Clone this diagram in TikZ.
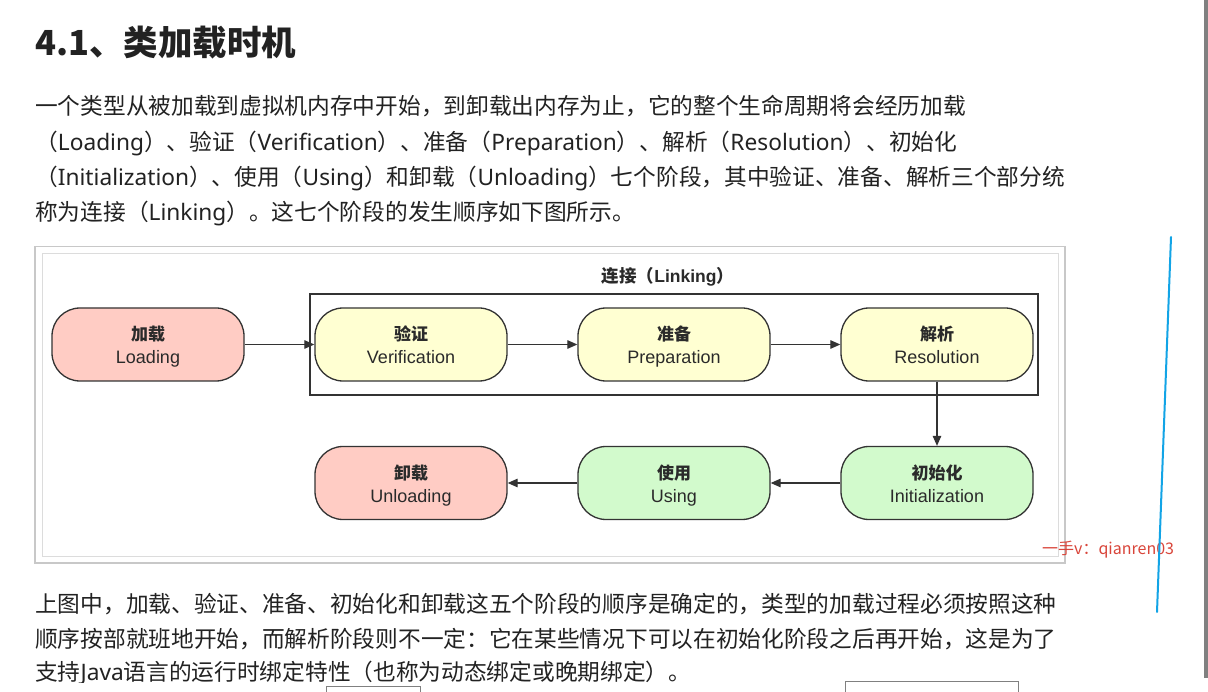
\documentclass[tikz,border=0pt]{standalone}
\usepackage{fontspec}
\setmainfont{Noto Sans}
\newfontfamily\cjk{Noto Sans CJK SC}
\newfontfamily\lat{Noto Sans}
\newfontfamily\helv{Liberation Sans}
\usetikzlibrary{arrows.meta}
\definecolor{txt}{HTML}{222222}
\definecolor{ntxt}{HTML}{2A2A2A}
\definecolor{nline}{HTML}{333333}
\definecolor{pinkfill}{HTML}{FFCCC4}
\definecolor{yelfill}{HTML}{FFFFD2}
\definecolor{grnfill}{HTML}{D2FACC}
\definecolor{frameA}{HTML}{C8C8C8}
\definecolor{frameB}{HTML}{DCDCDC}
\definecolor{wmred}{HTML}{D9453A}
\definecolor{blueln}{HTML}{12A4E6}
\definecolor{edgegray}{HTML}{808080}
\newcommand{\mystrut}{\rule[-4pt]{0pt}{23pt}}
\newcommand{\stagelabel}[2]{{\cjk\bfseries\fontsize{17}{23}\selectfont\mystrut #1}\\{\helv\fontsize{18}{23}\selectfont\mystrut #2}}
\begin{document}
\begin{tikzpicture}[x=1pt,y=-1pt,
  body/.style={anchor=base west, inner sep=0pt, text=txt, font=\cjk\fontsize{22.7}{30}\selectfont},
  stage/.style={draw=nline, line width=1.3pt, rounded corners=28pt, minimum width=192pt, minimum height=73pt, align=center, text=ntxt, inner sep=0pt, font=\fontsize{17}{23}\selectfont},
  arr/.style={-{Triangle[length=10pt,width=8.5pt]}, line width=1.2pt, draw=nline},
]
\useasboundingbox (0,0) rectangle (1208,692);
\fill[white] (0,0) rectangle (1208,692);

% title
\node[anchor=base west, inner sep=0pt, text=txt, font=\cjk\bfseries\fontsize{34.5}{40}\selectfont] (title) at (35,56) {4.1、类加载时机};

% top paragraph
\node[body] (l1) at (35,114.6) {一个类型从被加载到虚拟机内存中开始，到卸载出内存为止，它的整个生命周期将会经历加载};
\node[body] (l2) at (35,150.6) {（{\lat Loading}）、验证（{\lat Verification}）、准备（{\lat Preparation}）、解析（{\lat Resolution}）、初始化};
\node[body] (l3) at (35,185.6) {（{\lat Initialization}）、使用（{\lat Using}）和卸载（{\lat Unloading}）七个阶段，其中验证、准备、解析三个部分统};
\node[body] (l4) at (35,220.6) {称为连接（{\lat Linking}）。这七个阶段的发生顺序如下图所示。};

% figure frames
\draw[frameA, line width=1.2pt] (35,246.5) rectangle (1065,563);
\draw[frameB, line width=1pt] (42.5,253.5) rectangle (1058,556);

% linking box
\node[draw=nline, line width=1.2pt, minimum width=728pt, minimum height=101pt, inner sep=0pt] (linkbox) at (674,344.5) {};
\node[text=ntxt, font=\cjk\bfseries\fontsize{17.5}{20}\selectfont, inner sep=0pt] (linklabel) at (668,277) {连接（{\helv\bfseries Linking}）};

% stages
\node[stage, fill=pinkfill] (load) at (148,344.5) {\stagelabel{加载}{Loading}};
\node[stage, fill=yelfill] (verif) at (411,344.5) {\stagelabel{验证}{Verification}};
\node[stage, fill=yelfill] (prep) at (674,344.5) {\stagelabel{准备}{Preparation}};
\node[stage, fill=yelfill] (resol) at (937,344.5) {\stagelabel{解析}{Resolution}};
\node[stage, fill=grnfill] (init) at (937,483) {\stagelabel{初始化}{Initialization}};
\node[stage, fill=grnfill] (using) at (674,483) {\stagelabel{使用}{Using}};
\node[stage, fill=pinkfill] (unload) at (411,483) {\stagelabel{卸载}{Unloading}};

\draw[arr] (load) -- (verif);
\draw[arr] (verif) -- (prep);
\draw[arr] (prep) -- (resol);
\draw[arr] (resol) -- (init);
\draw[arr] (init) -- (using);
\draw[arr] (using) -- (unload);

% watermark
\node[anchor=west, inner sep=0pt, text=wmred, font=\cjk\fontsize{16}{20}\selectfont] (wm) at (1042,550) {一手v：qianren03};

% bottom paragraph
\node[body] (l5) at (35,612.6) {上图中，加载、验证、准备、初始化和卸载这五个阶段的顺序是确定的，类型的加载过程必须按照这种};
\node[body] (l6) at (35,647.6) {顺序按部就班地开始，而解析阶段则不一定：它在某些情况下可以在初始化阶段之后再开始，这是为了};
\node[body] (l7) at (35,680.6) {支持{\lat Java}语言的运行时绑定特性（也称为动态绑定或晚期绑定）。};

% cut-off bottom strip and UI remnants
\fill[white] (0,683) rectangle (1208,692);
\draw[edgegray, line width=1pt] (845,681) rectangle (1018,693);
\draw[edgegray, line width=0.8pt] (326,686) rectangle (420,693);

% pen stroke and page edge
\draw[blueln, line width=2pt, line cap=round] (1171,237) -- (1157,612);
\fill[edgegray] (1203.5,0) rectangle (1208,678);
\end{tikzpicture}
\end{document}
